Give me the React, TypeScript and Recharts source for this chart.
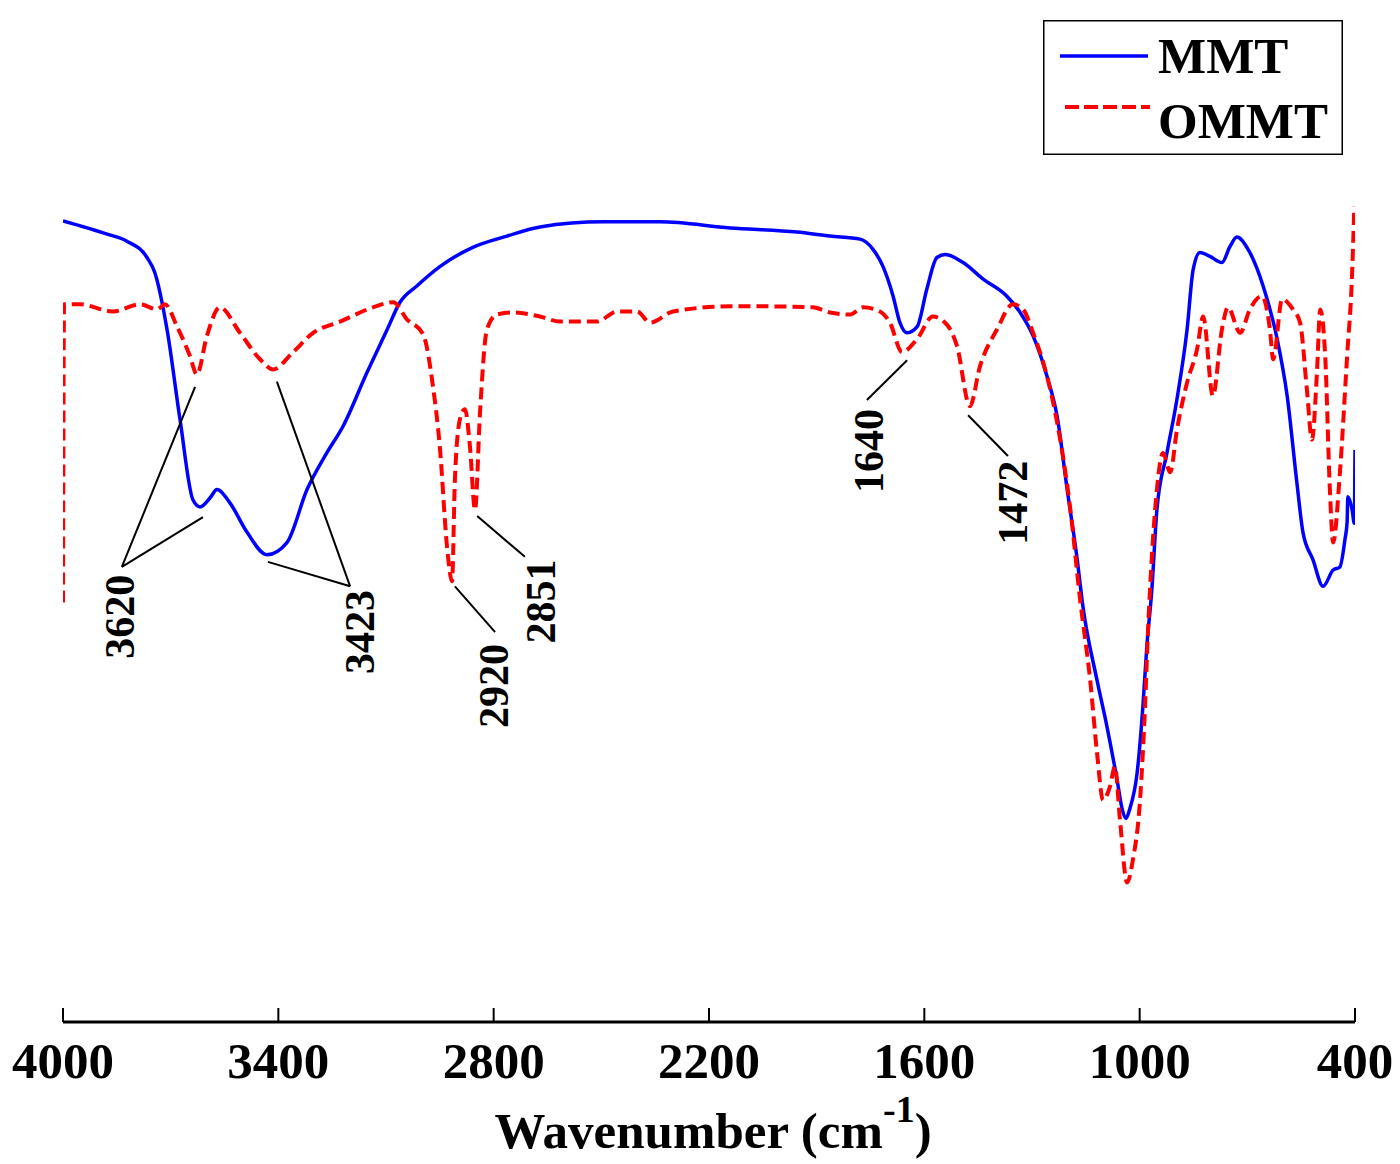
import React from 'react';
import { LineChart, Line, XAxis, YAxis, ReferenceLine, ReferenceDot, Legend } from 'recharts';

const FONT = '"Liberation Serif", "Times New Roman", Times, serif';

const xTicks = [4000, 3400, 2800, 2200, 1600, 1000, 400];

const mmtWavenumber = [4000,3877,3822,3766,3744,3710,3674,3638,3618,3590,3571,3535,3487,3432,3376,3320,3265,3220,3153,3097,3061,3014,2950,2858,2763,2671,2495,2337,2141,1955,1863,1779,1743,1715,1687,1668,1648,1620,1593,1565,1542,1492,1437,1370,1333,1297,1258,1230,1202,1175,1158,1119,1091,1063,1048,1038,1027,1007,991,980,966,952,924,896,868,851,832,804,771,748,729,698,656,617,589,562,545,517,489,461,442,428,422,420,408,402,400];
const mmtT = [78.7,77.4,76.7,75.1,73.6,68.0,59.2,51.3,50.6,51.5,52.3,51.0,48.1,45.9,47.1,52.3,55.9,58.5,63.8,68.0,70.7,72.3,74.2,76.1,77.2,78.1,78.6,78.6,78.0,77.6,77.2,76.9,75.9,74.2,71.3,68.7,67.7,68.3,72.0,75.1,75.4,74.6,73.0,71.3,69.7,67.4,63.4,59.5,52.3,45.7,40.8,33.6,29.0,23.8,20.8,20.0,21.0,24.5,31.0,36.9,42.5,50.3,55.9,61.2,68.0,73.9,75.6,75.2,74.6,76.2,77.1,75.9,72.3,67.1,61.5,53.0,48.1,45.4,42.8,44.4,44.7,47.4,49.1,51.6,50.3,49.0,56.2];

const ommtWavenumber = [4000,3997,3953,3861,3785,3738,3716,3682,3646,3627,3599,3563,3507,3451,3415,3359,3303,3228,3136,3080,3041,2997,2969,2950,2930,2916,2908,2894,2880,2866,2852,2838,2819,2791,2746,2671,2615,2512,2456,2401,2364,2300,2141,2050,1910,1863,1807,1771,1724,1696,1662,1620,1576,1537,1509,1473,1445,1398,1353,1325,1297,1258,1230,1194,1166,1138,1119,1102,1083,1069,1055,1035,1019,999,985,977,963,952,935,915,896,868,840,823,796,771,754,720,693,659,637,628,603,573,553,534,520,506,497,483,470,461,442,422,408,402];
const ommtT = [41.2,70.5,70.5,69.8,70.5,70.0,70.5,68.3,65.4,63.6,67.4,70.2,67.7,65.1,64.1,65.8,67.7,68.8,70.2,70.7,69.0,67.6,62.4,56.5,46.7,43.3,53.3,59.2,60.2,56.5,50.3,59.9,68.0,69.5,69.7,69.3,68.8,68.8,69.8,69.8,68.7,69.8,70.3,70.3,70.2,69.7,69.5,70.2,69.8,68.7,65.8,67.1,69.3,68.5,66.4,60.5,64.4,68.0,70.5,70.0,67.7,63.4,58.9,50.6,41.5,33.6,26.5,21.8,23.1,25.1,19.9,13.7,15.9,21.8,31.0,38.2,47.4,52.3,55.9,54.0,58.2,62.8,66.1,69.3,61.5,68.0,70.2,67.7,70.0,71.3,68.0,65.1,71.0,70.0,68.7,62.1,57.2,63.8,70.0,65.4,52.3,47.1,54.0,65.4,73.6,80.1];

const peakLabels = ['3620', '3423', '2920', '2851', '1640', '1472'];
const peakLabelWavenumber = [3841, 3172, 2799, 2668, 1754, 1353];
const peakLabelT = [39.8, 38.3, 33.0, 41.3, 56.1, 51.0];

const leaderWn1 = [3836, 3836, 3200, 3200, 2908, 2846, 1760, 1478];
const leaderT1 = [44.7, 44.7, 42.8, 42.8, 42.8, 49.7, 61.1, 59.6];
const leaderWn2 = [3632, 3610, 3404, 3429, 2796, 2713, 1648, 1367];
const leaderT2 = [62.4, 49.6, 62.9, 45.2, 38.3, 45.7, 65.0, 55.6];

const mmtData = mmtWavenumber.map((wn, i) => ({ wn, t: mmtT[i] }));
const ommtData = ommtWavenumber.map((wn, i) => ({ wn, t: ommtT[i] }));

const XTick = (props: any) => {
  const { x, y, payload } = props;
  return (
    <text x={x} y={y} textAnchor="middle" fontFamily={FONT} fontWeight="bold" fontSize={51} fill="#000">
      {payload.value}
    </text>
  );
};

const XTitle = (props: any) => {
  const vb = props.viewBox || {};
  const cx = vb.x + vb.width / 2 + 4;
  const by = vb.y + 126;
  return (
    <text x={cx} y={by} textAnchor="middle" fontFamily={FONT} fontWeight="bold" fontSize={51} fill="#000">
      <tspan>Wavenumber (cm</tspan>
      <tspan fontSize={38} dy={-26}>-1</tspan>
      <tspan dy={26}>)</tspan>
    </text>
  );
};

const YTitle = (props: any) => {
  const vb = props.viewBox || {};
  const x = vb.x - 13;
  const y = vb.y + 508;
  return (
    <text x={x} y={y} transform={`rotate(-90 ${x} ${y})`} textAnchor="middle" fontFamily={FONT} fontWeight="bold" fontSize={51} fill="#000">
      Transmittance
    </text>
  );
};

const LegendBox = () => (
  <svg width={300} height={135} style={{ display: 'block' }}>
    <rect x={0.75} y={0.75} width={298.5} height={133.5} fill="#fff" stroke="#000" strokeWidth={1.5} />
    <line x1={17} y1={36} x2={105} y2={36} stroke="#0000FF" strokeWidth={3.5} />
    <text x={115} y={53} fontFamily={FONT} fontWeight="bold" fontSize={51} fill="#000">MMT</text>
    <line x1={22} y1={87} x2={107} y2={87} stroke="#FF0000" strokeWidth={4} strokeDasharray="14 5" />
    <text x={115} y={118} fontFamily={FONT} fontWeight="bold" fontSize={51} fill="#000">OMMT</text>
  </svg>
);

const makeLabelShape = (text: string) => (p: any) => (
  <text
    x={p.cx}
    y={p.cy}
    transform={`rotate(-90 ${p.cx} ${p.cy})`}
    textAnchor="middle"
    dominantBaseline="central"
    fontFamily={FONT}
    fontWeight="bold"
    fontSize={42}
    fill="#000"
  >
    {text}
  </text>
);

export default function App() {
  return (
    <div style={{ position: 'absolute', left: 0, top: 0, width: 1400, height: 1164, background: '#fff' }}>
      <LineChart width={1400} height={1164} margin={{ top: 4, right: 45, bottom: 0, left: 63 }}>
        <XAxis
          type="number"
          dataKey="wn"
          domain={[400, 4000]}
          reversed
          ticks={xTicks}
          allowDataOverflow
          height={142}
          axisLine={{ stroke: '#000', strokeWidth: 3 }}
          tickLine={{ stroke: '#000', strokeWidth: 2 }}
          tickSize={-14}
          tickMargin={70}
          tick={<XTick />}
          interval={0}
          label={{ content: <XTitle /> } as any}
        />
        <YAxis
          type="number"
          domain={[0, 100]}
          allowDataOverflow
          width={0}
          tick={false}
          tickLine={false}
          axisLine={{ stroke: '#000', strokeWidth: 3 }}
          label={{ content: <YTitle /> } as any}
        />
        <Legend
          layout="vertical"
          align="center"
          verticalAlign="middle"
          content={() => <LegendBox />}
          wrapperStyle={{ position: 'absolute', left: 1043, top: 20, width: 300, height: 135 }}
        />
        <Line
          data={mmtData}
          dataKey="t"
          name="MMT"
          type="monotone"
          stroke="#0000FF"
          strokeWidth={3.5}
          dot={false}
          activeDot={false}
          isAnimationActive={false}
        />
        <Line
          data={ommtData}
          dataKey="t"
          name="OMMT"
          type="monotone"
          stroke="#FF0000"
          strokeWidth={4}
          strokeDasharray="12 6"
          dot={false}
          activeDot={false}
          isAnimationActive={false}
        />
        {leaderWn1.map((wn, i) => (
          <ReferenceLine
            key={`ld${i}`}
            segment={[{ x: wn, y: leaderT1[i] }, { x: leaderWn2[i], y: leaderT2[i] }]}
            stroke="#000"
            strokeWidth={2}
            ifOverflow="visible"
          />
        ))}
        {peakLabels.map((txt, i) => (
          <ReferenceDot
            key={`pl${i}`}
            x={peakLabelWavenumber[i]}
            y={peakLabelT[i]}
            r={1}
            ifOverflow="visible"
            shape={makeLabelShape(txt)}
          />
        ))}
      </LineChart>
    </div>
  );
}
